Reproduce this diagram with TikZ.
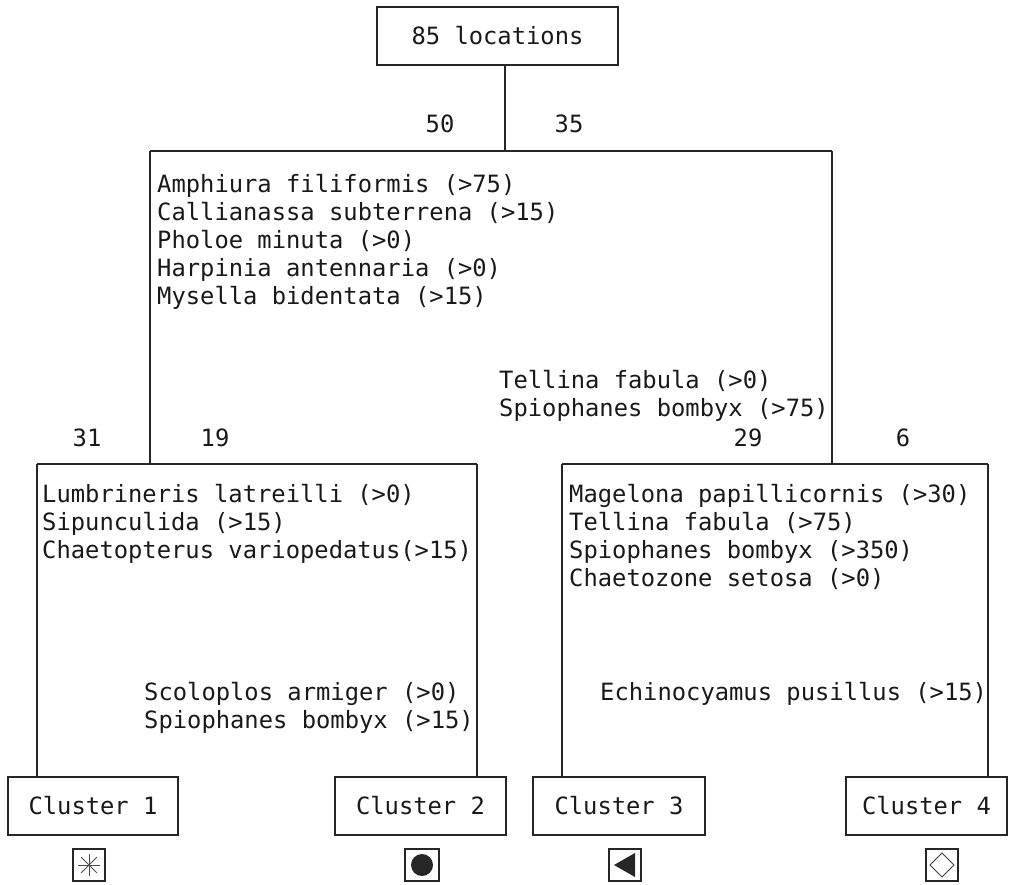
\documentclass[tikz,border=0pt]{standalone}
\usepackage{fontspec}
\setmonofont{DejaVu Sans Mono}
\begin{document}
\begin{tikzpicture}[x=1pt,y=-1pt,
  txt/.style={font=\ttfamily\fontsize{23.8}{28}\selectfont, text=black!90},
  lbl/.style={txt, inner sep=0pt, anchor=base west},
  num/.style={txt, inner sep=0pt, anchor=base},
  box/.style={txt, draw=black!85, line width=1.8pt, minimum height=58pt, inner sep=0pt},
  link/.style={draw=black!85, line width=1.8pt},
  symbox/.style={draw=black!85, line width=1.6pt}]
\useasboundingbox (0,0) rectangle (1009,884);

% root and leaves
\node[box, minimum width=241pt] (root) at (497.5,36) {85 locations};
\node[box, minimum width=170pt] (c1) at (93,806) {Cluster 1};
\node[box, minimum width=171pt] (c2) at (420.5,806) {Cluster 2};
\node[box, minimum width=172pt] (c3) at (619,806) {Cluster 3};
\node[box, minimum width=161pt] (c4) at (926.5,806) {Cluster 4};

% junction points of the tree
\coordinate (j0) at (505,151);
\coordinate (a) at (150,151);
\coordinate (b) at (832,151);
\coordinate (aL) at (150,464);
\coordinate (bR) at (832,464);
\coordinate (l1) at (37,464);
\coordinate (l2) at (477,464);
\coordinate (r1) at (562,464);
\coordinate (r2) at (988,464);

% first split
\draw[link] (j0 |- root.south) -- (j0);
\draw[link] (a) -- (b);
\draw[link] (a) -- (aL);
\draw[link] (b) -- (bR);
% left split
\draw[link] (l1) -- (l2);
\draw[link] (l1) -- (c1.north -| l1);
\draw[link] (l2) -- (c2.north -| l2);
% right split
\draw[link] (r1) -- (r2);
\draw[link] (r1) -- (c3.north -| r1);
\draw[link] (r2) -- (c4.north -| r2);

% group sizes
\node[num] (n50) at (440,132) {50};
\node[num] (n35) at (569,132) {35};
\node[num] (n31) at (87,446) {31};
\node[num] (n19) at (215,446) {19};
\node[num] (n29) at (748,446) {29};
\node[num] (n6) at (903,446) {6};

% species of the first split
\node[lbl] (s1) at (157,192) {Amphiura filiformis (>75)};
\node[lbl] (s2) at (157,220) {Callianassa subterrena (>15)};
\node[lbl] (s3) at (157,248) {Pholoe minuta (>0)};
\node[lbl] (s4) at (157,276) {Harpinia antennaria (>0)};
\node[lbl] (s5) at (157,304) {Mysella bidentata (>15)};
\node[lbl] (s6) at (499,388) {Tellina fabula (>0)};
\node[lbl] (s7) at (499,416) {Spiophanes bombyx (>75)};

% species of the left split
\node[lbl] (t1) at (42,502) {Lumbrineris latreilli (>0)};
\node[lbl] (t2) at (42,530) {Sipunculida (>15)};
\node[lbl] (t3) at (42,558) {Chaetopterus variopedatus(>15)};
\node[lbl] (t4) at (144,700) {Scoloplos armiger (>0)};
\node[lbl] (t5) at (144,728) {Spiophanes bombyx (>15)};

% species of the right split
\node[lbl] (u1) at (569,502) {Magelona papillicornis (>30)};
\node[lbl] (u2) at (569,530) {Tellina fabula (>75)};
\node[lbl] (u3) at (569,558) {Spiophanes bombyx (>350)};
\node[lbl] (u4) at (569,586) {Chaetozone setosa (>0)};
\node[lbl] (u5) at (600,700) {Echinocyamus pusillus (>15)};

% cluster symbols
\draw[symbox] (73,849) rectangle (105,881);
\foreach \ang in {0,45,...,315}
  \draw[draw=black!70, line width=0.8pt] (89,865) -- ++(\ang:11);
\draw[symbox] (405,849) rectangle (439,881);
\fill[black!85] (422,865) circle (11);
\draw[symbox] (609,849) rectangle (641,881);
\fill[black!85] (614,865) -- (635,853) -- (635,877) -- cycle;
\draw[symbox] (926,849) rectangle (958,881);
\draw[draw=black!75, line width=1pt] (942,853) -- (954,865) -- (942,877) -- (930,865) -- cycle;
\end{tikzpicture}
\end{document}
